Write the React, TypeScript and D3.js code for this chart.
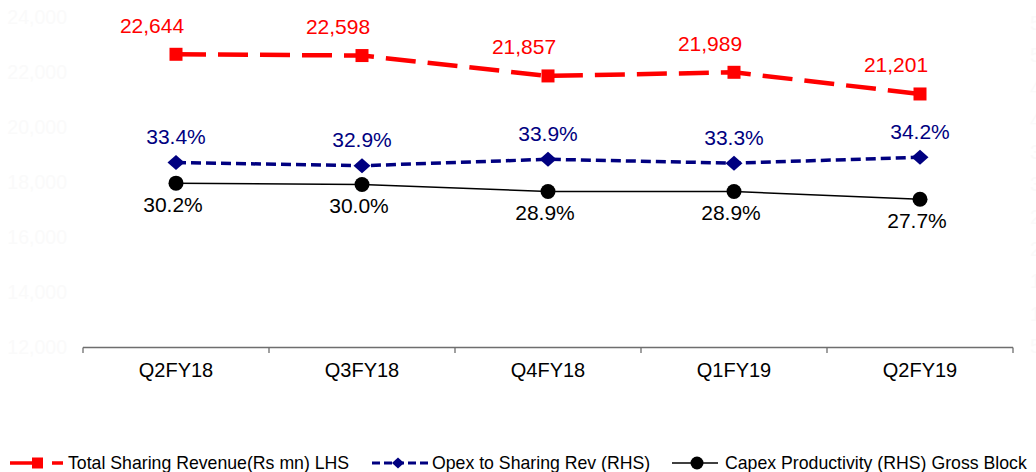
import React from "react";
import * as d3 from "d3";

const categories = ["Q2FY18", "Q3FY18", "Q4FY18", "Q1FY19", "Q2FY19"];
const revenue = [22644, 22598, 21857, 21989, 21201];
const opexPct = [33.4, 32.9, 33.9, 33.3, 34.2];
const capexPct = [30.2, 30.0, 28.9, 28.9, 27.7];
const leftTicks = [12000, 14000, 16000, 18000, 20000, 22000, 24000];
const rightTicks = [5, 10, 15, 20, 25, 30, 35, 40, 45, 50, 55];
const legendLabels = [
  "Total Sharing Revenue(Rs mn) LHS",
  "Opex to Sharing Rev (RHS)",
  "Capex Productivity (RHS) Gross Block",
];

const W = 1036;
const H = 472;
const FONT = "'Liberation Sans', Arial, sans-serif";
const RED = "#FF0000";
const NAVY = "#000080";
const FAINT = "#fafafa";

export default function App() {
  const x = d3.scaleBand<string>().domain(categories).range([83, 1013]);
  const cx = (c: string) => (x(c) as number) + x.bandwidth() / 2;
  const yL = d3.scaleLinear().domain([12000, 24000]).range([347, 17]);
  const yR = d3.scaleLinear().domain([4.84, 55.92]).range([347, 17]);

  const revPts: [number, number][] = categories.map((c, i) => [cx(c), yL(revenue[i])]);
  const opexPts: [number, number][] = categories.map((c, i) => [cx(c), yR(opexPct[i])]);
  const capexPts: [number, number][] = categories.map((c, i) => [cx(c), yR(capexPct[i])]);
  const line = d3.line();
  const fmt = d3.format(",");
  const labelFs = 21;
  const base = (center: number, fs: number) => center + 0.358 * fs;

  const boundaries = [...categories.map((c) => x(c) as number), 1013];

  const legY = 463;
  return (
    <svg
      width={W}
      height={H}
      style={{ position: "absolute", left: 0, top: 0, background: "#fff" }}
      fontFamily={FONT}
    >
      {/* faint left axis labels */}
      {leftTicks.map((t) => (
        <text key={t} x={67} y={base(yL(t), 19.5)} fontSize={19.5} textAnchor="end" fill={FAINT}>
          {fmt(t)}
        </text>
      ))}
      {/* faint right axis labels (cut by the edge, as in the reference) */}
      {rightTicks.map((t) => (
        <text key={t} x={1030} y={base(yR(t), 19.5)} fontSize={19.5} textAnchor="start" fill={FAINT}>
          {t}%
        </text>
      ))}
      {/* x axis */}
      <line x1={83} x2={1013} y1={347.5} y2={347.5} stroke="#6e6e6e" strokeWidth={1.3} />
      {boundaries.map((b, i) => (
        <line key={i} x1={b} x2={b} y1={347.5} y2={353} stroke="#6e6e6e" strokeWidth={1.3} />
      ))}
      {categories.map((c) => (
        <text key={c} x={cx(c)} y={377} fontSize={20} textAnchor="middle" fill="#000">
          {c}
        </text>
      ))}

      {/* capex line */}
      <path d={line(capexPts) || ""} fill="none" stroke="#000" strokeWidth={1.5} />
      {/* opex line */}
      <path d={line(opexPts) || ""} fill="none" stroke={NAVY} strokeWidth={3.5} strokeDasharray="10 5" />
      {/* revenue line */}
      <path d={line(revPts) || ""} fill="none" stroke={RED} strokeWidth={4.5} strokeDasharray="30 12" />

      {capexPts.map(([px, py], i) => (
        <circle key={i} cx={px} cy={py} r={7.5} fill="#000" />
      ))}
      {opexPts.map(([px, py], i) => (
        <path key={i} d={`M${px - 8.5},${py} L${px},${py - 7.5} L${px + 8.5},${py} L${px},${py + 7.5} Z`} fill={NAVY} />
      ))}
      {revPts.map(([px, py], i) => (
        <rect key={i} x={px - 6.5} y={py - 6.5} width={13} height={13} fill={RED} />
      ))}

      {/* labels */}
      {revPts.map(([px, py], i) => (
        <text key={i} x={px - 24} y={base(py - 29, labelFs)} fontSize={labelFs} textAnchor="middle" fill={RED}>
          {fmt(revenue[i])}
        </text>
      ))}
      {opexPts.map(([px, py], i) => (
        <text key={i} x={px} y={base(py - 26, labelFs)} fontSize={labelFs} textAnchor="middle" fill={NAVY}>
          {opexPct[i].toFixed(1)}%
        </text>
      ))}
      {capexPts.map(([px, py], i) => (
        <text key={i} x={px - 3} y={base(py + 21, labelFs)} fontSize={labelFs} textAnchor="middle" fill="#000">
          {capexPct[i].toFixed(1)}%
        </text>
      ))}

      {/* legend */}
      <line x1={10} x2={63} y1={legY} y2={legY} stroke={RED} strokeWidth={3.5} strokeDasharray="33 9 11" />
      <rect x={32} y={legY - 5.5} width={11} height={11} fill={RED} />
      <text x={68} y={469} fontSize={17.7} fill="#000">{legendLabels[0]}</text>

      <line x1={372} x2={430} y1={legY} y2={legY} stroke={NAVY} strokeWidth={3} strokeDasharray="8 4" />
      <path d={`M${392},${legY} L${398},${legY - 5.5} L${404},${legY} L${398},${legY + 5.5} Z`} fill={NAVY} />
      <text x={432} y={469} fontSize={17.7} fill="#000">{legendLabels[1]}</text>

      <line x1={672} x2={718} y1={legY} y2={legY} stroke="#000" strokeWidth={1.5} />
      <circle cx={697} cy={legY} r={6.5} fill="#000" />
      <text x={725} y={469} fontSize={17.7} fill="#000">{legendLabels[2]}</text>
    </svg>
  );
}
